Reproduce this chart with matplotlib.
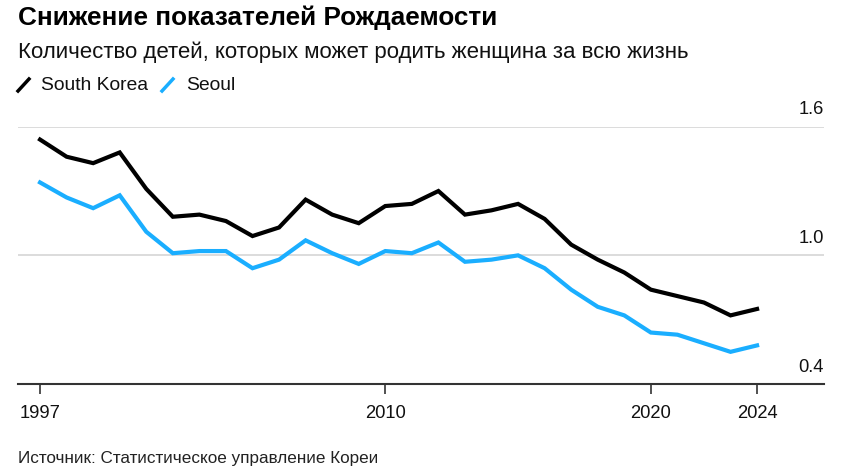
import matplotlib
matplotlib.use("Agg")
import matplotlib.pyplot as plt
from matplotlib.lines import Line2D

years = list(range(1997, 2025))
south_korea = [1.54, 1.46, 1.43, 1.48, 1.31, 1.18, 1.19, 1.16, 1.09, 1.13, 1.26, 1.19, 1.15, 1.23,
               1.24, 1.30, 1.19, 1.21, 1.24, 1.17, 1.05, 0.98, 0.92, 0.84, 0.81, 0.78, 0.72, 0.75]
seoul = [1.34, 1.27, 1.22, 1.28, 1.11, 1.01, 1.02, 1.02, 0.94, 0.98, 1.07, 1.01, 0.96, 1.02,
         1.01, 1.06, 0.97, 0.98, 1.00, 0.94, 0.84, 0.76, 0.72, 0.64, 0.63, 0.59, 0.55, 0.58]
x_ticks = [1997, 2010, 2020, 2024]
y_ticks = [0.4, 1.0, 1.6]
y_labels = ["0.4", "1.0", "1.6"]

plt.rcParams['font.family'] = ['Liberation Sans', 'DejaVu Sans']

W, H = 856, 469
fig = plt.figure(figsize=(W / 100, H / 100), dpi=100)
left, right, top, bottom = 18, 824, 126.7, 384
ax = fig.add_axes([left / W, 1 - bottom / H, (right - left) / W, (bottom - top) / H])

ax.plot(years, south_korea, color='#000000', lw=3, solid_joinstyle='miter', zorder=3)
ax.plot(years, seoul, color='#1aaeff', lw=3, solid_joinstyle='miter', zorder=3)

ax.set_xlim(1996.17, 2026.52)
ax.set_ylim(0.4, 1.6)
for s in ['top', 'right', 'left']:
    ax.spines[s].set_visible(False)
ax.spines['bottom'].set_color('#333333')
ax.spines['bottom'].set_linewidth(1.5)
ax.set_yticks([])
for v, lab in zip(y_ticks, y_labels):
    if v > 0.4:
        ax.axhline(v, color='#d9d9d9', lw=1.3, zorder=1)
    ax.annotate(lab, xy=(1, v), xycoords=('axes fraction', 'data'), xytext=(0, 6),
                textcoords='offset points', ha='right', va='bottom', fontsize=13.2, color='#111111')

ax.set_xticks(x_ticks)
ax.set_xticklabels([str(t) for t in x_ticks], fontsize=13.2, color='#111111')
ax.tick_params(axis='x', length=7, width=1.2, color='#333333', pad=8)

fig.text(18 / W, 1 - 18 / H, "Снижение показателей Рождаемости", fontsize=18.8, fontweight='bold',
         ha='left', va='center', color='#000000')
fig.text(18 / W, 1 - 52 / H, "Количество детей, которых может родить женщина за всю жизнь", fontsize=16,
         ha='left', va='center', color='#111111')

# legend
def leg_mark(x0, color):
    l = Line2D([x0 / W, (x0 + 11) / W], [1 - 91 / H, 1 - 79 / H], transform=fig.transFigure,
               color=color, lw=2.5)
    fig.add_artist(l)

leg_mark(18, '#000000')
fig.text(41 / W, 1 - 85 / H, "South Korea", fontsize=13.9, ha='left', va='center', color='#111111')
leg_mark(162, '#1aaeff')
fig.text(186 / W, 1 - 85 / H, "Seoul", fontsize=13.9, ha='left', va='center', color='#111111')

fig.text(18 / W, 1 - 458 / H, "Источник: Статистическое управление Кореи", fontsize=12.3,
         ha='left', va='center', color='#222222')

fig.savefig("out.png", dpi=100)
